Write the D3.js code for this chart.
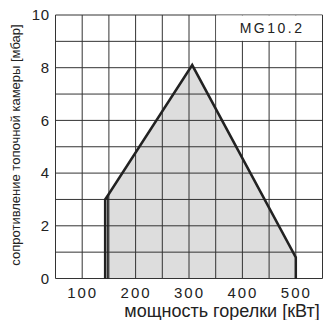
<!DOCTYPE html>
<html><head><meta charset="utf-8">
<script src="https://cdn.jsdelivr.net/npm/d3@7"></script>
<style>html,body{margin:0;padding:0;background:#fff;}svg{display:block;font-family:"Liberation Sans",Arial,sans-serif;}</style>
</head><body><svg id="c" width="323" height="320"></svg>
<script>
const xTicks = [100, 200, 300, 400, 500];
const yTicks = [0, 2, 4, 6, 8, 10];
const xGrid = d3.range(50, 551, 50);
const yGrid = d3.range(0, 11, 1);
// operating field: [power kW, resistance mbar]
const fieldX = [143, 143, 148, 306, 500, 500];
const fieldY = [0, 3.0, 3.15, 8.1, 0.8, 0];
const innerLineX = [148, 148];
const innerLineY = [0, 3.15];
const modelLabel = "MG10.2";
const xTitle = "мощность горелки [кВт]";
const yTitle = "сопротивление топочной камеры [мбар]";

const svg = d3.select("#c");
const x = d3.scaleLinear().domain([50, 550]).range([55.5, 322.5]);
const y = d3.scaleLinear().domain([0, 10]).range([278.5, 15]);

const field = fieldX.map((v, i) => [v, fieldY[i]]);
const line = d3.line().x(d => x(d[0])).y(d => y(d[1]));

svg.append("path").attr("d", line(field) + "Z")
  .attr("fill", "#dddddd").attr("stroke", "none");

const g = svg.append("g");
g.selectAll(".vx").data(xGrid).join("line")
  .attr("x1", d => x(d)).attr("x2", d => x(d))
  .attr("y1", y(0)).attr("y2", y(10))
  .attr("stroke", "#333").attr("stroke-width", 1);
g.selectAll(".hy").data(yGrid).join("line")
  .attr("y1", d => y(d)).attr("y2", d => y(d))
  .attr("x1", x(50)).attr("x2", x(550))
  .attr("stroke", "#333").attr("stroke-width", 1);

// label box
svg.append("rect").attr("x", x(350) + 0.5).attr("y", y(10) + 0.5)
  .attr("width", x(550) - x(350) - 1).attr("height", y(9) - y(10) - 1)
  .attr("fill", "#fff");
svg.append("text").attr("x", x(450) + 3).attr("y", y(9.33))
  .attr("text-anchor", "middle").attr("font-size", 14).attr("letter-spacing", 2.5)
  .attr("fill", "#222").text(modelLabel);

// outline
svg.append("path").attr("d", line(field))
  .attr("fill", "none").attr("stroke", "#222").attr("stroke-width", 2.5)
  .attr("stroke-linejoin", "miter");
svg.append("path").attr("d", line(innerLineX.map((v, i) => [v, innerLineY[i]])))
  .attr("fill", "none").attr("stroke", "#222").attr("stroke-width", 1.5);

// axes
const xAxis = d3.axisBottom(x).tickValues(xTicks).tickSize(0).tickPadding(9);
const xa = svg.append("g").attr("transform", `translate(0,${y(0)})`).call(xAxis);
xa.select(".domain").remove();
xa.selectAll("text").attr("font-size", 15).attr("letter-spacing", 2)
  .attr("fill", "#222").attr("font-family", "Liberation Sans, Arial, sans-serif");

const yAxis = d3.axisLeft(y).tickValues(yTicks).tickSize(0).tickPadding(6);
const ya = svg.append("g").attr("transform", `translate(${x(50)},0)`).call(yAxis);
ya.select(".domain").remove();
ya.selectAll("text").attr("font-size", 15).attr("letter-spacing", 0.5)
  .attr("fill", "#222").attr("font-family", "Liberation Sans, Arial, sans-serif");

svg.append("text").attr("x", 222).attr("y", 317)
  .attr("text-anchor", "middle").attr("font-size", 18).attr("fill", "#222").text(xTitle);
svg.append("text").attr("transform", "translate(20,145) rotate(-90)")
  .attr("text-anchor", "middle").attr("font-size", 13).attr("fill", "#222").text(yTitle);
</script></body></html>
